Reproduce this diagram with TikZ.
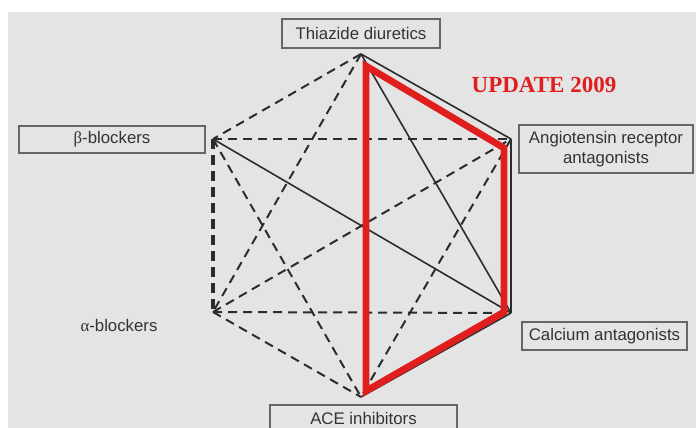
\documentclass[tikz,border=0pt]{standalone}
\usepackage{fontspec}
\setmainfont{Liberation Sans}
\newfontfamily\titleserif{Liberation Serif}
\definecolor{panelgray}{HTML}{E4E4E4}
\definecolor{inkgray}{HTML}{2C2C2C}
\definecolor{labelgray}{HTML}{333333}
\definecolor{framegray}{HTML}{666666}
\definecolor{updatered}{HTML}{E01E1E}
\tikzset{
  solidedge/.style={draw=inkgray, line width=1.6pt},
  dashedge/.style={draw=inkgray, line width=2pt, dash pattern=on 9pt off 6pt},
  thickdashedge/.style={draw=inkgray, line width=3.8pt, dash pattern=on 10pt off 6pt},
  redroute/.style={draw=updatered, line width=6.8pt, line join=miter},
  classbox/.style={draw=framegray, line width=1.4pt, text=labelgray, inner sep=0pt,
    font=\fontsize{16.8}{20}\selectfont, align=center},
  classtext/.style={text=labelgray, inner sep=0pt, font=\fontsize{16.8}{20}\selectfont}
}
\begin{document}
\begin{tikzpicture}[x=1pt,y=-1pt]
\useasboundingbox (0,0) rectangle (696,428);
\clip (0,0) rectangle (696,428);
\fill[white] (0,0) rectangle (696,428);
\fill[panelgray] (8,12) rectangle (696,428);

% hexagon corners
\coordinate (T) at (361,54);
\coordinate (ARB) at (511,139);
\coordinate (CCB) at (511,313);
\coordinate (ACE) at (361,397);
\coordinate (A) at (213,312);
\coordinate (B) at (213,139);

% corners of the highlighted route
\coordinate (rT) at (366,66);
\coordinate (rARB) at (504,148);
\coordinate (rCCB) at (504,312);
\coordinate (rACE) at (366,391);

% dashed combinations
\draw[dashedge] (T) -- (B);
\draw[dashedge] (T) -- (A);
\draw[dashedge] (B) -- (ARB);
\draw[dashedge] (B) -- (ACE);
\draw[dashedge] (A) -- (ARB);
\draw[dashedge] (A) -- (CCB);
\draw[dashedge] (A) -- (ACE);
\draw[dashedge] (ARB) -- (ACE);
\draw[thickdashedge] (B) -- (A);

% solid combinations
\draw[solidedge] (T) -- (ARB);
\draw[solidedge] (T) -- (CCB);
\draw[solidedge] (ARB) -- (CCB);
\draw[solidedge] (CCB) -- (ACE);
\draw[solidedge] (B) -- (CCB);

% preferred combinations
\draw[redroute] (rT) -- (rARB) -- (rCCB) -- (rACE) -- cycle;

% drug classes
\node[classbox, minimum width=158pt, minimum height=29pt] (thiazide) at (361,33.5) {Thiazide diuretics};
\node[classbox, minimum width=186pt, minimum height=27pt] (beta) at (112,139.5) {{\titleserif β}-blockers};
\node[classbox, minimum width=174pt, minimum height=48pt] (arb) at (606,149) {Angiotensin receptor\\antagonists};
\node[classtext] (alpha) at (119,325) {{\titleserif α}-blockers};
\node[classbox, minimum width=165pt, minimum height=28pt] (calcium) at (604.5,336) {Calcium antagonists};
\node[classbox, minimum width=187pt, minimum height=27pt] (acei) at (363.5,418.5) {ACE inhibitors};

\node[text=updatered, inner sep=0pt, font=\titleserif\bfseries\fontsize{23}{26}\selectfont] (update) at (544,85) {UPDATE 2009};
\end{tikzpicture}
\end{document}
